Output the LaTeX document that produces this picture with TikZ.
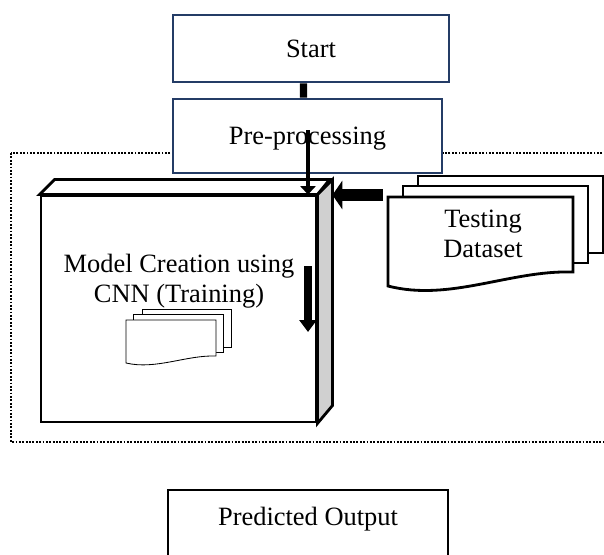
\documentclass[tikz,border=0pt]{standalone}
\usepackage{fontspec}
\setmainfont{Liberation Serif}
\usetikzlibrary{arrows.meta,calc}

\definecolor{boxblue}{RGB}{36,60,102}
\definecolor{sidegray}{RGB}{208,208,208}

\begin{document}
\begin{tikzpicture}[x=0.025cm, y=-0.025cm,
    every node/.style={font=\fontsize{18.8}{21.5}\selectfont},
    stepbox/.style={draw=boxblue, line width=1.8pt, fill=white, inner sep=0pt, text depth=0pt},
    outbox/.style={draw=black, line width=2pt, fill=white, inner sep=0pt, text height=10pt, text depth=10pt},
    edge3d/.style={draw=black, line width=2pt, line join=miter},
    areaframe/.style={draw=black, line width=1.6pt, dash pattern=on 1.3pt off 1.1pt},
    docline/.style={draw=black, line width=2pt, line join=miter},
    smalldoc/.style={draw=black, line width=0.6pt, line join=miter},
    linkbar/.style={line width=5pt},
    midarrow/.style={line width=2.8pt, -{Triangle[width=10.7pt, length=6pt]}},
    bigarrow/.style={line width=9.2pt, -{Triangle[width=20pt, length=7pt]}},
    trainarrow/.style={line width=5.7pt, -{Triangle[width=12pt, length=8.5pt]}}]
    \clip (0,0) rectangle (604,554);

    % dotted area round the model part
    \draw[areaframe] (11,153) rectangle (620,442);

    \node[stepbox, minimum width=6.9cm, minimum height=1.675cm] (start) at (311,48.5) {Start};
    \node[stepbox, minimum width=6.725cm, minimum height=1.85cm] (pre) at (307.5,136) {Pre-processing};
    \node[outbox, minimum width=7cm, minimum height=1.75cm] (output) at (308,525) {Predicted Output};

    % model block
    \node[edge3d, fill=white, inner sep=0pt, minimum width=6.875cm, minimum height=5.65cm] (model) at (178.5,309) {};
    \draw[edge3d, fill=white] (model.north west) -- ++(15,-15) -- ++(275,0) -- (model.north east) -- cycle;
    \draw[edge3d, fill=sidegray] (model.north east) -- ++(15,-15) -- ++(0,226) -- (model.south east) -- cycle;
    \coordinate (modelback) at ($(model.north east)+(15,-15)$);
    \node[align=center] (modeltext) at (179,281) {Model Creation using\\CNN (Training)};

    % small documents
    \draw[smalldoc] (142,314) -- (142,309) -- (231,309) -- (231,347) -- (223,347);
    \draw[smalldoc] (133,320) -- (133,314) -- (223,314) -- (223,352) -- (216,352);
    \draw[smalldoc, fill=white] (126,320) -- (216,320) -- (216,356)
        .. controls (186,355) and (156,370) .. (126,363) -- cycle;

    % testing documents
    \draw[docline] (418,186) -- (418,176) -- (603,176) -- (603,253) -- (588,253);
    \draw[docline] (403,197) -- (403,186) -- (588,186) -- (588,263) -- (573,263);
    \draw[docline, fill=white] (388,197) -- (573,197) -- (573,272)
        .. controls (510,270) and (450,302) .. (388,286) -- cycle;
    \node[align=center] (testtext) at (483,234) {Testing\\Dataset};

    % connectors
    \draw[linkbar] ($(start.south)+(-7.5,0)$) -- ($(pre.north)+(-4,0)$);
    \coordinate (prein) at (308,130);
    \draw[midarrow] (prein) -- (prein |- model.north);
    \coordinate (testin) at (383,195);
    \draw[bigarrow] (testin) -- (testin -| modelback);
    \coordinate (trainA) at (308,266);
    \coordinate (trainB) at (308,332);
    \draw[trainarrow] (trainA) -- (trainB);
\end{tikzpicture}
\end{document}
